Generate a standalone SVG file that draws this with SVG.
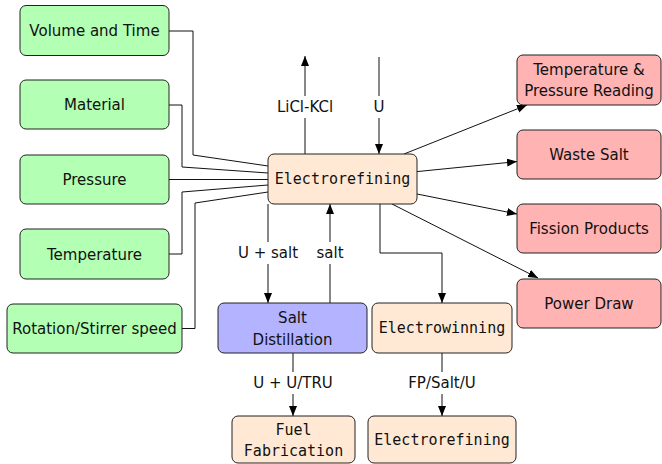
<svg xmlns="http://www.w3.org/2000/svg" width="662" height="464" viewBox="0 0 662 464">
<defs>
<marker id="arr" markerWidth="11" markerHeight="9" refX="10" refY="4" orient="auto" markerUnits="userSpaceOnUse">
<path d="M0,0 L10,4 L0,8 Z" fill="#000"/>
</marker>
<style>
.box{stroke:#222;stroke-width:1}
.g{fill:#b3ffb3}
.o{fill:#ffe9d4}
.r{fill:#ffb3b3}
.b{fill:#b3b3ff}
.t{font-family:"DejaVu Sans","Liberation Sans",sans-serif;font-size:15px;fill:#111;text-anchor:middle}
.m{font-family:"DejaVu Sans Mono","Liberation Mono",monospace;font-size:15px;fill:#111;text-anchor:middle}
.c{fill:none;stroke:#111;stroke-width:1}
.a{marker-end:url(#arr)}
.lb{fill:#fff}
</style>
</defs>
<rect width="662" height="464" fill="#fff"/>
<g id="connectors">
<path class="c" d="M169,31 H193 V155 L268,166"/>
<path class="c" d="M169,105 H182 V167 L268,173"/>
<path class="c" d="M169,179.5 H268"/>
<path class="c" d="M169,254 H182 V192 L268,185"/>
<path class="c" d="M182,328.5 H195 V203 L268,192"/>
<path class="c a" d="M305,154 V56"/>
<path class="c a" d="M379,57 V154"/>
<path class="c a" d="M268,204 V303"/>
<path class="c a" d="M330,303 V204"/>
<path class="c a" d="M380,204 V253 H442 V303"/>
<path class="c a" d="M293,353 V416"/>
<path class="c a" d="M442,353 V416"/>
<path class="c a" d="M404,154 L527,105"/>
<path class="c a" d="M417,171.6 L517,161.6"/>
<path class="c a" d="M417,194 L517,214"/>
<path class="c a" d="M392,204 L538,278"/>
<rect class="lb" x="272" y="96" width="66" height="22"/>
<text class="t" x="305" y="112">LiCl-KCl</text>
<rect class="lb" x="370" y="96" width="18" height="22"/>
<text class="t" x="379" y="112">U</text>
<rect class="lb" x="235" y="242" width="66" height="22"/>
<text class="t" x="268" y="258">U + salt</text>
<rect class="lb" x="313" y="242" width="34" height="22"/>
<text class="t" x="330" y="258">salt</text>
<rect class="lb" x="244" y="372" width="98" height="22"/>
<text class="t" x="293" y="388">U + U/TRU</text>
<rect class="lb" x="402" y="372" width="80" height="22"/>
<text class="t" x="442" y="388">FP/Salt/U</text>
</g>
<g id="volume-time"><rect class="box g" x="20" y="5.5" width="149" height="50" rx="6"/><text class="t" x="94.5" y="35.5">Volume and Time</text></g>
<g id="material"><rect class="box g" x="20" y="80" width="149" height="49" rx="6"/><text class="t" x="94.5" y="110">Material</text></g>
<g id="pressure"><rect class="box g" x="20" y="155" width="149" height="49" rx="6"/><text class="t" x="94.5" y="185">Pressure</text></g>
<g id="temperature"><rect class="box g" x="20" y="229" width="149" height="50" rx="6"/><text class="t" x="94.5" y="259.5">Temperature</text></g>
<g id="rotation"><rect class="box g" x="7" y="304" width="175" height="49" rx="6"/><text class="t" x="94.5" y="334">Rotation/Stirrer speed</text></g>
<g id="electrorefining"><rect class="box o" x="268" y="154" width="149" height="50" rx="6"/><text class="m" x="342.5" y="184">Electrorefining</text></g>
<g id="salt-distillation"><rect class="box b" x="218" y="303" width="149" height="50" rx="6"/><text class="t" x="292.5" y="323">Salt</text><text class="t" x="292.5" y="345">Distillation</text></g>
<g id="electrowinning"><rect class="box o" x="372" y="303" width="140" height="50" rx="6"/><text class="m" x="442" y="333">Electrowinning</text></g>
<g id="fuel-fabrication"><rect class="box o" x="232" y="416" width="123" height="47" rx="6"/><text class="m" x="293.5" y="435">Fuel</text><text class="m" x="293.5" y="456">Fabrication</text></g>
<g id="electrorefining-2"><rect class="box o" x="368" y="416" width="148" height="47" rx="6"/><text class="m" x="442" y="445">Electrorefining</text></g>
<g id="temp-pressure-reading"><rect class="box r" x="517" y="55" width="144" height="50" rx="6"/><text class="t" x="589" y="74.5">Temperature &amp;</text><text class="t" x="589" y="95.5">Pressure Reading</text></g>
<g id="waste-salt"><rect class="box r" x="517" y="130" width="144" height="49" rx="6"/><text class="t" x="589" y="160">Waste Salt</text></g>
<g id="fission-products"><rect class="box r" x="517" y="204" width="144" height="49" rx="6"/><text class="t" x="589" y="234">Fission Products</text></g>
<g id="power-draw"><rect class="box r" x="517" y="279" width="144" height="49" rx="6"/><text class="t" x="589" y="309">Power Draw</text></g>
</svg>
